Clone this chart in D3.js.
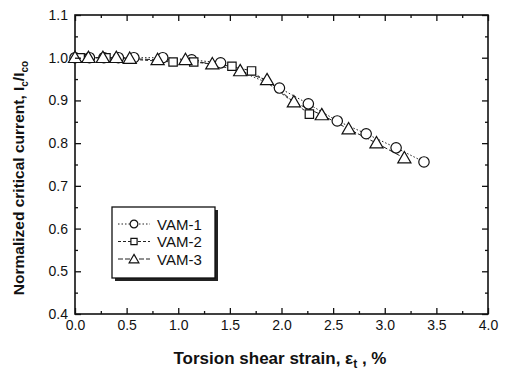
<!DOCTYPE html>
<html>
<head>
<meta charset="utf-8">
<script src="https://cdn.jsdelivr.net/npm/d3@7"></script>
<style>
body { margin: 0; background: #fff; }
text { font-family: "Liberation Sans", Arial, sans-serif; fill: #111; }
</style>
</head>
<body>
<svg width="509" height="375"></svg>
<script>
// data
var vam1X = [0, 0.14, 0.28, 0.42, 0.57, 0.85, 1.13, 1.41, 1.98, 2.26, 2.54, 2.82, 3.11, 3.38];
var vam1Y = [1.0, 1.0, 1.0, 1.0, 1.0, 1.0, 0.995, 0.988, 0.929, 0.892, 0.852, 0.822, 0.789, 0.756];
var vam2X = [0.05, 0.3, 0.95, 1.15, 1.52, 1.71, 2.27];
var vam2Y = [1.0, 1.0, 0.99, 0.99, 0.98, 0.969, 0.868];
var vam3X = [0, 0.13, 0.27, 0.4, 0.53, 0.8, 1.07, 1.33, 1.6, 1.86, 2.12, 2.39, 2.65, 2.92, 3.19];
var vam3Y = [1.0, 1.0, 1.0, 1.0, 0.998, 0.995, 0.995, 0.985, 0.969, 0.948, 0.896, 0.866, 0.833, 0.80, 0.765];
var seriesNames = ['VAM-1', 'VAM-2', 'VAM-3'];
var xTicks = [0, 0.5, 1.0, 1.5, 2.0, 2.5, 3.0, 3.5, 4.0];
var yTicks = [0.4, 0.5, 0.6, 0.7, 0.8, 0.9, 1.0, 1.1];

var svg = d3.select('svg');
var pLeft = 75, pRight = 488, pTop = 15, pBottom = 314;

var x = d3.scaleLinear().domain([0, 4]).range([pLeft, pRight]);
var y = d3.scaleLinear().domain([0.4, 1.1]).range([pBottom, pTop]);

var plot = svg.append('g');

// frame
plot.append('rect')
    .attr('x', pLeft).attr('y', pTop)
    .attr('width', pRight - pLeft).attr('height', pBottom - pTop)
    .attr('fill', 'none').attr('stroke', '#111').attr('stroke-width', 1.6);

// ticks, inward on all sides
var xMinor = d3.range(0.25, 4, 0.5);
var yMinor = d3.range(0.45, 1.1, 0.1);

svg.append('g').attr('transform', 'translate(0,' + pBottom + ')')
    .call(d3.axisBottom(x).tickValues(xTicks).tickSize(-6).tickFormat(d3.format('.1f')).tickPadding(6));
svg.append('g').attr('transform', 'translate(0,' + pBottom + ')')
    .call(d3.axisBottom(x).tickValues(xMinor).tickSize(-3).tickFormat(''));
svg.append('g').attr('transform', 'translate(0,' + pTop + ')')
    .call(d3.axisTop(x).tickValues(xTicks).tickSize(-6).tickFormat(''));
svg.append('g').attr('transform', 'translate(0,' + pTop + ')')
    .call(d3.axisTop(x).tickValues(xMinor).tickSize(-3).tickFormat(''));
svg.append('g').attr('transform', 'translate(' + pLeft + ',0)')
    .call(d3.axisLeft(y).tickValues(yTicks).tickSize(-6).tickFormat(d3.format('.1f')).tickPadding(7));
svg.append('g').attr('transform', 'translate(' + pLeft + ',0)')
    .call(d3.axisLeft(y).tickValues(yMinor).tickSize(-3).tickFormat(''));
svg.append('g').attr('transform', 'translate(' + pRight + ',0)')
    .call(d3.axisRight(y).tickValues(yTicks).tickSize(-6).tickFormat(''));
svg.append('g').attr('transform', 'translate(' + pRight + ',0)')
    .call(d3.axisRight(y).tickValues(yMinor).tickSize(-3).tickFormat(''));

svg.selectAll('.domain').remove();
svg.selectAll('.tick line').attr('stroke', '#111').attr('stroke-width', 1.3);
svg.selectAll('.tick text').style('font-size', '14px').attr('fill', '#111');

// series
var series = [
    { name: seriesNames[0], xs: vam1X, ys: vam1Y, sym: d3.symbolCircle, dash: '1.5,2' },
    { name: seriesNames[1], xs: vam2X, ys: vam2Y, sym: d3.symbolSquare, dash: '3,2' },
    { name: seriesNames[2], xs: vam3X, ys: vam3Y, sym: d3.symbolTriangle, dash: '5,2' }
];

var line = d3.line().x(function(d){ return x(d[0]); }).y(function(d){ return y(d[1]); });

series.forEach(function(s){
    var pts = s.xs.map(function(v, i){ return [v, s.ys[i]]; });
    plot.append('path')
        .attr('d', line(pts))
        .attr('fill', 'none').attr('stroke', '#222')
        .attr('stroke-width', 1).attr('stroke-dasharray', s.dash);
});

function symPath(sym, k){
    var size = sym === d3.symbolSquare ? 70 : (sym === d3.symbolTriangle ? 75 : 85);
    return d3.symbol().type(sym).size(size * k)();
}

series.forEach(function(s){
    plot.selectAll(null)
        .data(s.xs.map(function(v, i){ return [v, s.ys[i]]; }))
        .enter()
        .append('path')
        .attr('d', symPath(s.sym, 1))
        .attr('transform', function(d){
            var dy = s.sym === d3.symbolTriangle ? 1 : 0;
            return 'translate(' + x(d[0]) + ',' + (y(d[1]) + dy) + ')';
        })
        .attr('fill', '#fff').attr('stroke', '#111').attr('stroke-width', 1.2);
});

// legend
var lg = svg.append('g');
lg.append('rect').attr('x', 115).attr('y', 210).attr('width', 103).attr('height', 71).attr('fill', '#222');
lg.append('rect').attr('x', 112).attr('y', 207).attr('width', 103).attr('height', 71)
    .attr('fill', '#fff').attr('stroke', '#111').attr('stroke-width', 1.3);
series.forEach(function(s, i){
    var ly = 224 + i * 17.5;
    lg.append('line').attr('x1', 118).attr('x2', 150).attr('y1', ly).attr('y2', ly)
        .attr('stroke', '#222').attr('stroke-width', 1).attr('stroke-dasharray', s.dash);
    lg.append('path').attr('d', symPath(s.sym, 0.55))
        .attr('transform', 'translate(134,' + (ly + (s.sym === d3.symbolTriangle ? 1 : 0)) + ')')
        .attr('fill', '#fff').attr('stroke', '#111').attr('stroke-width', 1.2);
    lg.append('text').attr('x', 157).attr('y', ly + 5.5).style('font-size', '15px')
        .text(s.name);
});

// axis titles
var xt = svg.append('text').attr('x', 280).attr('y', 364).attr('text-anchor', 'middle')
    .style('font-size', '17px').style('font-weight', 'bold');
xt.append('tspan').text('Torsion shear strain, ε');
xt.append('tspan').attr('dy', 4).style('font-size', '12px').text('t');
xt.append('tspan').attr('dy', -4).text(' , %');

var yt = svg.append('text').attr('transform', 'translate(24,178) rotate(-90)').attr('text-anchor', 'middle')
    .style('font-size', '15.5px').style('font-weight', 'bold');
yt.append('tspan').text('Normalized critical current, I');
yt.append('tspan').attr('dy', 4).style('font-size', '10px').text('c');
yt.append('tspan').attr('dy', -4).text('/I');
yt.append('tspan').attr('dy', 4).style('font-size', '10px').text('co');
</script>
</body>
</html>
